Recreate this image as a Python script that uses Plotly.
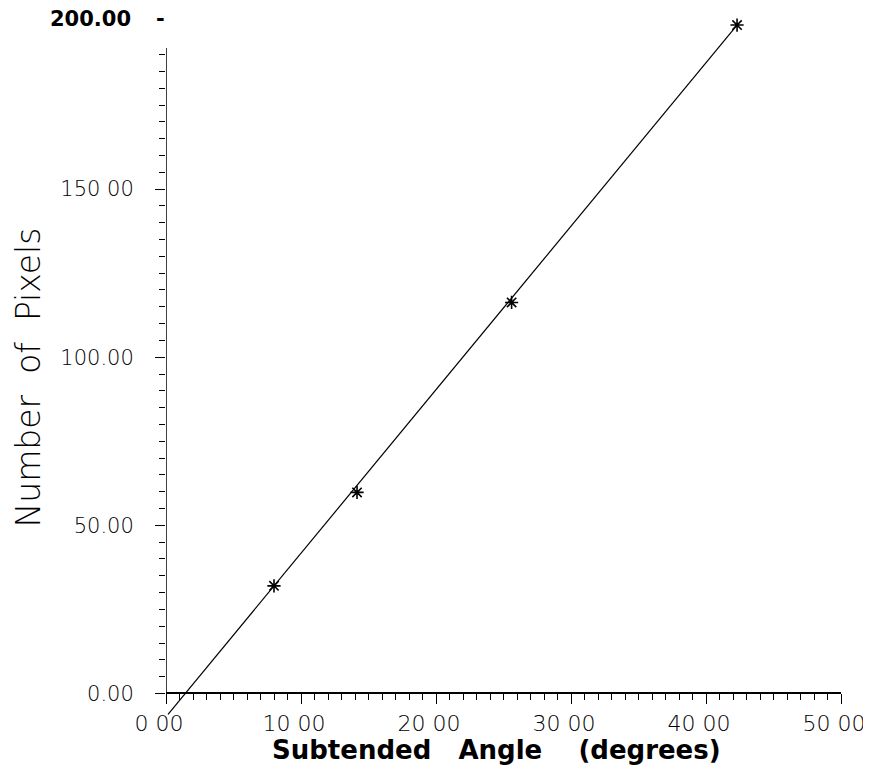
import plotly.graph_objects as go

# data
angle_deg = [8.0, 14.15, 25.6, 42.3]
num_pixels = [32.0, 59.8, 116.3, 198.8]
fit_x = [0.15, 42.3]
fit_y = [-6.2, 198.8]

x_tickvals = [0, 10, 20, 30, 40, 50]
x_ticktext = ["0 00", "10 00", "20 00", "30 00", "40 00", "50 00"]
y_tickvals = [0, 50, 100, 150]
y_ticktext = ["0.00", "50.00", "100.00", "150 00"]
y_top_label = "200.00"

Y_MIN, Y_MAX = -7, 200   # a little room below zero so the fit line's tail shows

LIGHT = "DejaVu Sans, Liberation Sans, sans-serif"
BOLD = "DejaVu Sans, Liberation Sans, sans-serif"

fig = go.Figure()
fig.add_trace(go.Scatter(x=fit_x, y=fit_y, mode="lines",
                         line=dict(color="black", width=1.2),
                         cliponaxis=False, showlegend=False))
fig.add_trace(go.Scatter(x=angle_deg, y=num_pixels, mode="markers",
                         marker=dict(symbol="asterisk", size=11,
                                     line=dict(color="black", width=1.6)),
                         cliponaxis=False, showlegend=False))

x_label_font = dict(family=LIGHT, size=22, color="black", weight=300)
y_label_font = dict(family=LIGHT, size=21, color="black", weight=300)

fig.update_xaxes(range=[0, 50], tickvals=x_tickvals, ticktext=x_ticktext,
                 anchor="free", position=(0 - Y_MIN) / (Y_MAX - Y_MIN),
                 ticks="outside", ticklen=10, tickwidth=1.3, tickcolor="black",
                 showline=True, linecolor="black", linewidth=1.5,
                 showgrid=False, zeroline=False, tickfont=x_label_font,
                 ticklabelshift=-7, automargin=False,
                 minor=dict(dtick=1, ticks="outside", ticklen=6,
                            tickcolor="black", tickwidth=1))
fig.update_yaxes(range=[Y_MIN, Y_MAX], tickvals=y_tickvals, ticktext=y_ticktext,
                 ticks="outside", ticklen=10, tickwidth=1.3, tickcolor="black",
                 showline=False, showgrid=False, zeroline=False,
                 tickfont=y_label_font, ticklabelstandoff=17, automargin=False,
                 minor=dict(tickvals=list(range(5, 195, 5)), ticks="outside",
                            ticklen=6, tickcolor="black", tickwidth=1))

# y axis line from 0, stopping short of the top of the range
fig.add_shape(type="line", x0=0, x1=0, y0=0, y1=192, xref="x", yref="y",
              line=dict(color="black", width=1.5))

fig.add_annotation(x=0, y=Y_MAX, xref="paper", yref="y", text="<b>" + y_top_label + "</b>",
                   showarrow=False, xanchor="right", yanchor="middle", xshift=-33, yshift=2,
                   font=dict(family=BOLD, size=21, color="black"))
fig.add_annotation(x=0, y=Y_MAX, xref="paper", yref="y", text="<b>-</b>",
                   showarrow=False, xanchor="center", yanchor="middle", xshift=-6, yshift=2,
                   font=dict(family=BOLD, size=21, color="black"))
fig.add_annotation(x=0, y=94, xref="paper", yref="y",
                   text="Number&nbsp; of&nbsp; Pixels",
                   textangle=-90, showarrow=False, xanchor="center", yanchor="middle",
                   xshift=-138, borderpad=0,
                   font=dict(family=LIGHT, size=33, color="black", weight=300))
fig.add_annotation(x=0.490, y=0, xref="paper", yref="y",
                   text="<b>Subtended&nbsp;&nbsp; Angle&nbsp;&nbsp;&nbsp; (degrees)</b>",
                   showarrow=False, xanchor="center", yanchor="middle", yshift=-57,
                   font=dict(family=BOLD, size=26, color="black"))

# the page body adds an 8px offset, so the figure is sized 8px smaller
fig.update_layout(width=863, height=760, plot_bgcolor="white", paper_bgcolor="white",
                  margin=dict(l=158, r=30, t=13, b=51), showlegend=False)
fig.write_html("out.html")
